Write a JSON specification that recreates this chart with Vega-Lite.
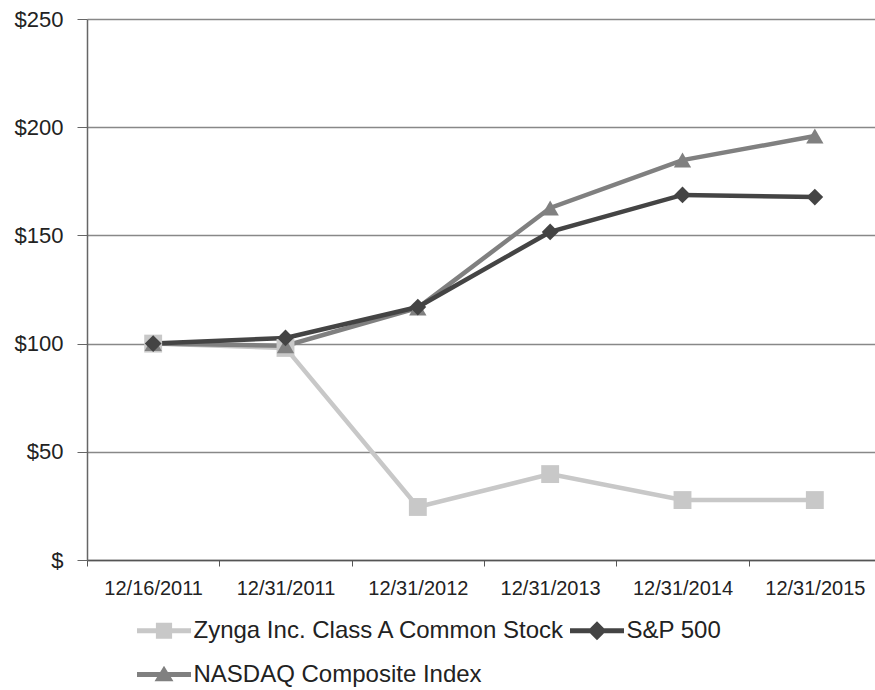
{
  "$schema": "https://vega.github.io/schema/vega-lite/v6.json",
  "width": 794,
  "height": 541,
  "autosize": "none",
  "padding": {"left": 87, "top": 19, "right": 0, "bottom": 130},
  "background": "white",
  "config": {
    "font": "Liberation Sans",
    "view": {"stroke": null}
  },
  "data": {
    "values": [
      {"date": "12/16/2011", "series": "Zynga Inc. Class A Common Stock", "value": 100},
      {"date": "12/31/2011", "series": "Zynga Inc. Class A Common Stock", "value": 98},
      {"date": "12/31/2012", "series": "Zynga Inc. Class A Common Stock", "value": 24.5},
      {"date": "12/31/2013", "series": "Zynga Inc. Class A Common Stock", "value": 39.7},
      {"date": "12/31/2014", "series": "Zynga Inc. Class A Common Stock", "value": 27.7},
      {"date": "12/31/2015", "series": "Zynga Inc. Class A Common Stock", "value": 27.7},
      {"date": "12/16/2011", "series": "NASDAQ Composite Index", "value": 100},
      {"date": "12/31/2011", "series": "NASDAQ Composite Index", "value": 99},
      {"date": "12/31/2012", "series": "NASDAQ Composite Index", "value": 116.5},
      {"date": "12/31/2013", "series": "NASDAQ Composite Index", "value": 162.7},
      {"date": "12/31/2014", "series": "NASDAQ Composite Index", "value": 184.8},
      {"date": "12/31/2015", "series": "NASDAQ Composite Index", "value": 195.9},
      {"date": "12/16/2011", "series": "S&P 500", "value": 100},
      {"date": "12/31/2011", "series": "S&P 500", "value": 102.6},
      {"date": "12/31/2012", "series": "S&P 500", "value": 116.9},
      {"date": "12/31/2013", "series": "S&P 500", "value": 151.6},
      {"date": "12/31/2014", "series": "S&P 500", "value": 168.7},
      {"date": "12/31/2015", "series": "S&P 500", "value": 167.7}
    ]
  },
  "encoding": {
    "x": {
      "field": "date",
      "type": "ordinal",
      "sort": null,
      "scale": {"paddingInner": 0, "paddingOuter": 0},
      "axis": {
        "title": null,
        "labelAngle": 0,
        "tickBand": "extent",
        "tickSize": 6,
        "tickColor": "#555",
        "domainColor": "#555",
        "domainWidth": 1.5,
        "labelFontSize": 20,
        "labelColor": "#222",
        "labelPadding": 12
      }
    },
    "y": {
      "field": "value",
      "type": "quantitative",
      "scale": {"domain": [0, 250], "nice": false},
      "axis": {
        "title": null,
        "values": [0, 50, 100, 150, 200, 250],
        "labelExpr": "datum.value == 0 ? '$' : '$' + datum.value",
        "grid": true,
        "gridColor": "#888",
        "gridWidth": 1.5,
        "tickSize": 10,
        "tickColor": "#666",
        "domainColor": "#666",
        "domainWidth": 1.5,
        "labelFontSize": 22,
        "labelColor": "#222",
        "labelPadding": 14
      }
    },
    "color": {
      "field": "series",
      "type": "nominal",
      "scale": {
        "domain": ["Zynga Inc. Class A Common Stock", "S&P 500", "NASDAQ Composite Index"],
        "range": ["#c8c8c8", "#444444", "#808080"]
      },
      "legend": {
        "title": null,
        "orient": "none",
        "direction": "horizontal",
        "legendX": 63.5,
        "legendY": 598,
        "columns": 2,
        "columnPadding": 3,
        "rowPadding": 18,
        "padding": 0,
        "symbolSize": 729,
        "symbolStrokeWidth": 0,
        "labelOffset": 16,
        "labelFontSize": 24,
        "labelColor": "#222",
        "labelLimit": 500,
        "encode": {
          "symbols": {
            "update": {
              "shape": {"signal": "datum.value === 'S&P 500' ? 'M-2,-0.18H2V0.18H-2Z M0,-0.7L0.7,0L0,0.7L-0.7,0Z' : datum.value === 'NASDAQ Composite Index' ? 'M-2,-0.18H2V0.18H-2Z M0,-0.65L0.7,0.5H-0.7Z' : 'M-2,-0.18H2V0.18H-2Z M-0.6,-0.6H0.6V0.6H-0.6Z'"},
              "strokeWidth": {"value": 0}
            }
          }
        }
      }
    }
  },
  "layer": [
    {
      "mark": {"type": "line", "strokeWidth": 4.5}
    },
    {
      "transform": [{"filter": "datum.series === 'Zynga Inc. Class A Common Stock'"}],
      "mark": {"type": "point", "shape": "square", "filled": true, "opacity": 1, "size": 320}
    },
    {
      "transform": [{"filter": "datum.series === 'NASDAQ Composite Index'"}],
      "mark": {"type": "point", "shape": "triangle-up", "filled": true, "opacity": 1, "size": 300}
    },
    {
      "transform": [{"filter": "datum.series === 'S&P 500'"}],
      "mark": {"type": "point", "shape": "diamond", "filled": true, "opacity": 1, "size": 280}
    }
  ]
}
